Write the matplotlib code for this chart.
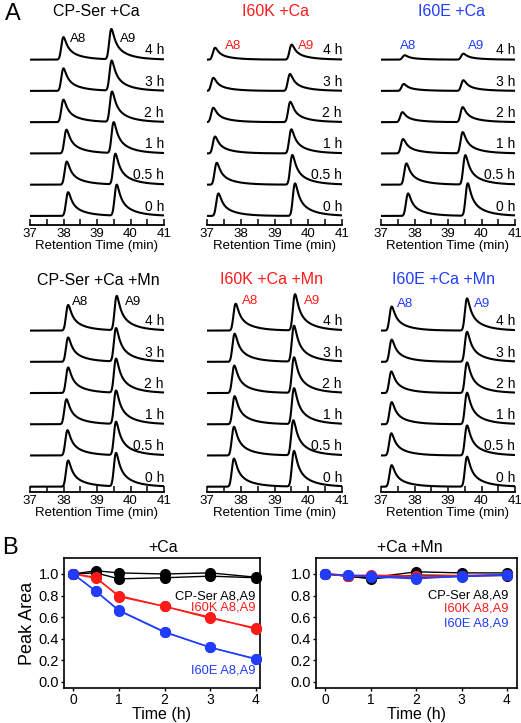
import numpy as np
import matplotlib
matplotlib.use("Agg")
import matplotlib.pyplot as plt
from matplotlib.ticker import MultipleLocator, FormatStrFormatter

plt.rcParams["font.family"] = ["Liberation Sans", "DejaVu Sans"]

W, H = 521, 723
RED = "#ff1a1a"
BLUE = "#1f3cff"

###################################################################################################
# Panel A: chromatogram peaks (retention time in min, height in trace-spacing units)
# order of traces: 0 h, 0.5 h, 1 h, 2 h, 3 h, 4 h

time_labels = ["0 h", "0.5 h", "1 h", "2 h", "3 h", "4 h"]

# CP-Ser +Ca
cp_ca_a8_pos = [38.14, 38.10, 38.09, 38.00, 38.00, 38.00]
cp_ca_a8_h = [0.76, 0.74, 0.76, 0.72, 0.72, 0.72]
cp_ca_a9_pos = [39.59, 39.55, 39.50, 39.45, 39.44, 39.43]
cp_ca_a9_h = [0.99, 0.98, 0.99, 0.97, 0.96, 0.97]

# I60K +Ca
k_ca_a8_pos = [37.34, 37.29, 37.24, 37.19, 37.19, 37.24]
k_ca_a8_h = [0.72, 0.70, 0.54, 0.46, 0.42, 0.38]
k_ca_a9_pos = [39.61, 39.53, 39.50, 39.47, 39.46, 39.51]
k_ca_a9_h = [1.04, 0.95, 0.77, 0.65, 0.54, 0.48]

# I60E +Ca
e_ca_a8_pos = [37.81, 37.76, 37.66, 37.64, 37.68, 37.71]
e_ca_a8_h = [0.72, 0.68, 0.46, 0.32, 0.22, 0.14]
e_ca_a9_pos = [39.59, 39.52, 39.44, 39.44, 39.46, 39.46]
e_ca_a9_h = [1.04, 0.94, 0.68, 0.48, 0.34, 0.19]

# CP-Ser +Ca +Mn
cp_mn_a8_pos = [38.14, 38.12, 38.09, 38.14, 38.14, 38.14]
cp_mn_a8_h = [0.84, 0.81, 0.80, 0.82, 0.78, 0.82]
cp_mn_a9_pos = [39.57, 39.57, 39.57, 39.57, 39.57, 39.59]
cp_mn_a9_h = [1.07, 1.07, 1.07, 1.09, 1.07, 1.10]

# I60K +Ca +Mn
k_mn_a8_pos = [37.80, 37.80, 37.82, 37.81, 37.82, 37.85]
k_mn_a8_h = [0.90, 0.92, 0.90, 0.88, 0.90, 0.86]
k_mn_a9_pos = [39.58, 39.56, 39.58, 39.58, 39.58, 39.61]
k_mn_a9_h = [1.14, 1.12, 1.15, 1.14, 1.15, 1.16]

# I60E +Ca +Mn
e_mn_a8_pos = [37.32, 37.31, 37.32, 37.31, 37.32, 37.32]
e_mn_a8_h = [0.69, 0.71, 0.71, 0.69, 0.71, 0.77]
e_mn_a9_pos = [39.57, 39.57, 39.57, 39.57, 39.57, 39.57]
e_mn_a9_h = [0.96, 0.96, 1.01, 0.98, 0.96, 1.03]

###################################################################################################
# Panel B: relative peak area over time

time_h = [0, 0.5, 1, 2, 3, 4]

ca_cp_a8 = [1.0, 1.03, 1.01, 1.0, 1.01, 0.97]
ca_cp_a9 = [1.0, 1.01, 0.955, 0.965, 0.98, 0.965]
ca_cp_err = [0, 0.03, 0.03, 0.01, 0.01, 0.01]
ca_k_a8 = [1.0, 0.97, 0.79, 0.70, 0.59, 0.50]
ca_k_a9 = [1.0, 0.96, 0.80, 0.70, 0.60, 0.49]
ca_k_err = [0, 0.02, 0.04, 0.015, 0.01, 0.02]
ca_e_a8 = [1.0, 0.84, 0.66, 0.46, 0.32, 0.21]
ca_e_a9 = [1.0, 0.84, 0.665, 0.465, 0.32, 0.215]

mn_cp_a8 = [1.0, 0.98, 0.965, 1.02, 1.01, 1.01]
mn_cp_a9 = [1.0, 0.98, 0.955, 0.99, 0.985, 0.985]
mn_k_a8 = [1.0, 0.985, 0.99, 0.98, 0.985, 0.995]
mn_k_a9 = [1.0, 0.98, 0.98, 0.97, 0.98, 0.99]
mn_e_a8 = [1.0, 0.99, 0.975, 0.955, 0.98, 0.995]
mn_e_a9 = [1.0, 0.99, 0.98, 0.965, 0.975, 0.99]

###################################################################################################

fig = plt.figure(figsize=(W / 100, H / 100), dpi=100)


def px_axes(left, top, right, bottom):
    return fig.add_axes([left / W, 1 - bottom / H, (right - left) / W, (bottom - top) / H])


# tailing peak shape (gaussian front, exponential tail), max normalised to 1
dt = 0.002
tg = np.arange(-0.6, 3.0, dt)
tp = np.clip(tg, 0, None)
tail = np.where(tg >= 0, 0.6 * np.exp(-tp / 0.10) + 0.4 * np.exp(-tp / 0.40), 0.0)
gk = np.exp(-0.5 * (np.arange(-0.2, 0.2 + dt, dt) / 0.045) ** 2)
shape = np.convolve(tail, gk, mode="same")
shape /= shape.max()
tg_peak = tg[np.argmax(shape)]

rt = np.linspace(37, 41, 800)


def trace(x0, h):
    return h * np.interp(rt - x0 + tg_peak, tg, shape, left=0, right=0)


def chrom_panel(cols, row_top, spine_y, base_off, a8p, a8h, a9p, a9h, color, lbl):
    ax = px_axes(cols[0], row_top, cols[1], spine_y)
    for i in range(6):
        y = i + trace(a8p[i], a8h[i]) + trace(a9p[i], a9h[i])
        ax.plot(rt, y, color="black", lw=1.5, solid_capstyle="butt")
        ax.text(41, i + 0.07, time_labels[i], ha="right", va="bottom", fontsize=10)
    ax.text(lbl[0], 5 + lbl[2], "A8", color=color, ha="center", va="center", fontsize=9.5)
    ax.text(lbl[1], 5 + lbl[3], "A9", color=color, ha="center", va="center", fontsize=9.5)
    ax.set_xlim(37, 41)
    ax.set_ylim(-base_off, 6.3)
    for s in ["top", "left", "right"]:
        ax.spines[s].set_visible(False)
    ax.spines["bottom"].set_linewidth(1.3)
    ax.set_yticks([])
    ax.xaxis.set_major_locator(MultipleLocator(1))
    ax.xaxis.set_minor_locator(MultipleLocator(0.5))
    ax.tick_params(axis="x", which="both", direction="in", length=4, width=1.1, pad=2,
                   labelsize=9.5)
    ax.set_xlabel("Retention Time (min)", fontsize=9.5, labelpad=0)
    return ax


cols = [(30, 164), (207, 342), (381, 515)]

# row 1: +Ca
chrom_panel(cols[0], 19, 225, 0.29, cp_ca_a8_pos, cp_ca_a8_h, cp_ca_a9_pos, cp_ca_a9_h,
            "black", (38.43, 39.93, 0.66, 0.66))
chrom_panel(cols[1], 19, 225, 0.29, k_ca_a8_pos, k_ca_a8_h, k_ca_a9_pos, k_ca_a9_h,
            RED, (37.78, 39.95, 0.45, 0.45))
chrom_panel(cols[2], 19, 225, 0.29, e_ca_a8_pos, e_ca_a8_h, e_ca_a9_pos, e_ca_a9_h,
            BLUE, (37.81, 39.83, 0.45, 0.45))

# row 2: +Ca +Mn
chrom_panel(cols[0], 290, 492, 0.17, cp_mn_a8_pos, cp_mn_a8_h, cp_mn_a9_pos, cp_mn_a9_h,
            "black", (38.49, 40.07, 0.93, 0.93))
chrom_panel(cols[1], 290, 492, 0.17, k_mn_a8_pos, k_mn_a8_h, k_mn_a9_pos, k_mn_a9_h,
            RED, (38.27, 40.10, 0.95, 0.95))
chrom_panel(cols[2], 290, 492, 0.17, e_mn_a8_pos, e_mn_a8_h, e_mn_a9_pos, e_mn_a9_h,
            BLUE, (37.71, 40.02, 0.85, 0.85))

# panel titles
title_kw = dict(ha="center", va="center", fontsize=11.5)
fig.text(96 / W, 1 - 12 / H, "CP-Ser +Ca", color="black", **title_kw)
fig.text(276 / W, 1 - 12 / H, "I60K +Ca", color=RED, **title_kw)
fig.text(452 / W, 1 - 12 / H, "I60E +Ca", color=BLUE, **title_kw)
fig.text(98 / W, 1 - 281 / H, "CP-Ser +Ca +Mn", color="black", **title_kw)
fig.text(272 / W, 1 - 279 / H, "I60K +Ca +Mn", color=RED, **title_kw)
fig.text(443 / W, 1 - 279 / H, "I60E +Ca +Mn", color=BLUE, **title_kw)

fig.text(13 / W, 1 - 14 / H, "A", ha="center", va="center", fontsize=17)
fig.text(10 / W, 1 - 548 / H, "B", ha="center", va="center", fontsize=17)


###################################################################################################
# Panel B

B_TOP, B_BOT = 558, 688


def area_panel(left, right, xmax, text_x, series, labels, title_x, title):
    ax = px_axes(left, B_TOP, right, B_BOT)
    for vals, err, color in series:
        ax.errorbar(time_h, vals, yerr=err, color=color, lw=1.0, marker="o", ms=7,
                    mec=color, mfc=color, capsize=2, elinewidth=0.8, capthick=0.8,
                    clip_on=False, zorder=3)
    for text, y, color in labels:
        ax.text(text_x, y, text, color=color, ha="right", va="center", fontsize=9.3)
    ax.set_xlim(-0.2, xmax)
    ax.set_ylim(-0.056, 1.148)
    ax.set_xticks([0, 1, 2, 3, 4])
    ax.set_yticks([0.0, 0.2, 0.4, 0.6, 0.8, 1.0])
    ax.yaxis.set_major_formatter(FormatStrFormatter("%.1f"))
    ax.tick_params(axis="both", direction="out", length=2.5, width=1.0, labelsize=10.5, pad=1)
    ax.tick_params(axis="x", length=2.5, pad=0.8, labelsize=10)
    for s in ax.spines.values():
        s.set_linewidth(1.2)
    ax.set_xlabel("Time (h)", fontsize=11.5, va="bottom")
    ax.xaxis.set_label_coords(0.5, -(722.5 - B_BOT) / (B_BOT - B_TOP))
    fig.text(title_x / W, 1 - 548 / H, title, ha="center", va="center", fontsize=11.5)
    return ax


ax_ca = area_panel(
    64, 260, 4.09, 3.99,
    [(ca_cp_a8, ca_cp_err, "black"), (ca_cp_a9, None, "black"),
     (ca_k_a8, ca_k_err, RED), (ca_k_a9, None, RED),
     (ca_e_a8, None, BLUE), (ca_e_a9, None, BLUE)],
    [("CP-Ser A8,A9", 0.79, "black"), ("I60K A8,A9", 0.69, RED), ("I60E A8,A9", 0.105, BLUE)],
    163, "+Ca")
ax_ca.set_ylabel("Peak Area", fontsize=13, labelpad=2)

area_panel(
    316, 517, 4.22, 4.04,
    [(mn_cp_a8, None, "black"), (mn_cp_a9, None, "black"),
     (mn_k_a8, None, RED), (mn_k_a9, None, RED),
     (mn_e_a8, None, BLUE), (mn_e_a9, None, BLUE)],
    [("CP-Ser A8,A9", 0.80, "black"), ("I60K A8,A9", 0.68, RED), ("I60E A8,A9", 0.54, BLUE)],
    410, "+Ca +Mn")

fig.savefig("out.png", dpi=100)
